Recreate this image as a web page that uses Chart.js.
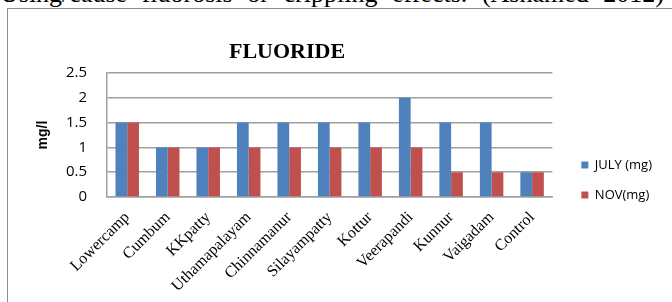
<!DOCTYPE html>
<html>
<head>
<meta charset="utf-8">
<script src="https://cdn.jsdelivr.net/npm/chart.js@4"></script>
<style>
  html, body { margin: 0; padding: 0; width: 672px; height: 302px; overflow: hidden; background: #fff; }
  #caption { position: absolute; left: 0; top: -19px; width: 664px; font: 26px "Liberation Serif", serif; line-height: 26px; white-space: nowrap; text-align: justify; text-align-last: justify; color: #000; }
  #frame { position: absolute; left: 7px; top: 8px; width: 700px; height: 320px; border: 1px solid #8c8c8c; }
  #title { position: absolute; left: 187px; top: 40px; width: 200px; text-align: center; font: bold 22px "Liberation Serif", serif; line-height: 22px; color: #000; }
  #wrap { position: absolute; left: 8px; top: 9px; width: 664px; height: 293px; }
</style>
</head>
<body>
<div id="caption">Using/cause fluorosis or crippling effects. (Ashamed 2012)</div>
<div id="frame"></div>
<div id="wrap"><canvas id="fluorideChart"></canvas></div>
<div id="title">FLUORIDE</div>
<script>
const categories = ['Lowercamp', 'Cumbum', 'KKpatty', 'Uthamapalayam', 'Chinnamanur', 'Silayampatty',
    'Kottur', 'Veerapandi', 'Kunnur', 'Vaigadam', 'Control'];
const julyValues = [1.5, 1, 1, 1.5, 1.5, 1.5, 1.5, 2, 1.5, 1.5, 0.5];
const novValues = [1.5, 1, 1, 1, 1, 1, 1, 1, 0.5, 0.5, 0.5];
const yTickValues = [0, 0.5, 1, 1.5, 2, 2.5];

const gridGrey = '#a0a0a0';
const ctx = document.getElementById('fluorideChart').getContext('2d');

new Chart(ctx, {
    type: 'bar',
    data: {
        labels: categories,
        datasets: [{
            label: 'JULY (mg)',
            data: julyValues,
            backgroundColor: '#4F81BD',
            categoryPercentage: 0.58,
            barPercentage: 1
        }, {
            label: 'NOV(mg)',
            data: novValues,
            backgroundColor: '#C0504D',
            categoryPercentage: 0.58,
            barPercentage: 1
        }]
    },
    options: {
        responsive: true,
        maintainAspectRatio: false,
        animation: false,
        layout: { padding: { top: 64, bottom: 0, left: 0, right: 10 } },
        plugins: {
            tooltip: { enabled: false },
            legend: {
                position: 'right',
                align: 'start',
                // blank title only pushes the two items down beside the plot
                title: { display: true, text: ' ', font: { size: 10 }, padding: { top: 0, bottom: 56.5 } },
                labels: {
                    boxWidth: 7,
                    boxHeight: 7,
                    padding: 17,
                    color: '#000',
                    font: { family: 'Open Sans', size: 13 }
                }
            }
        },
        scales: {
            x: {
                grid: { display: false, drawTicks: false },
                border: { display: true, color: gridGrey, width: 1.5 },
                ticks: {
                    minRotation: 45,
                    maxRotation: 45,
                    padding: 11,
                    color: '#000',
                    font: { family: 'Liberation Serif', size: 16 }
                },
                afterFit: s => { s.height = 105; }
            },
            y: {
                min: 0,
                max: 2.5,
                afterBuildTicks: s => { s.ticks = yTickValues.map(v => ({ value: v })); },
                grid: { color: gridGrey, lineWidth: 1.5, drawTicks: false },
                border: { display: true, color: gridGrey, width: 1.5 },
                ticks: {
                    padding: 20,
                    color: '#000',
                    font: { family: 'Open Sans', size: 15 },
                    callback: v => String(v)
                },
                title: {
                    display: true,
                    text: 'mg/l',
                    color: '#000',
                    font: { family: 'Liberation Sans', size: 14, weight: 'bold' },
                    padding: { top: 27, bottom: 0 }
                },
                afterFit: s => { s.width = 99; }
            },
            // empty spacer between plot and legend
            gap: {
                position: 'right',
                grid: { display: false, drawTicks: false },
                border: { display: false },
                ticks: { display: false },
                afterFit: s => { s.width = 12; }
            }
        }
    }
});
</script>
</body>
</html>
